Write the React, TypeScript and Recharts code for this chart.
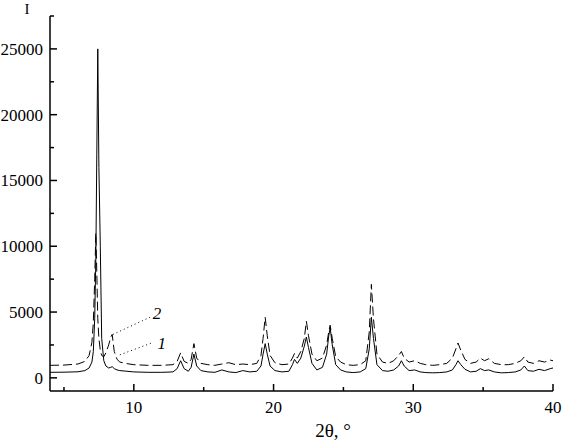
import React from "react";
import {
  LineChart,
  Line,
  XAxis,
  YAxis,
  ReferenceLine,
  ReferenceDot,
} from "recharts";

const FONT = '"Liberation Serif", "Times New Roman", serif';

// 2θ positions shared by both patterns
const twoTheta = [
  4, 5, 6, 6.5, 6.8, 7.0, 7.1, 7.2, 7.28, 7.35, 7.42, 7.5, 7.6, 7.7, 7.85, 8.0,
  8.2, 8.35, 8.45, 8.6, 8.8, 9.0, 9.5, 10, 11, 12, 12.8, 13.1, 13.35, 13.6, 13.9,
  14.1, 14.3, 14.5, 14.8, 15.3, 15.8, 16.3, 16.8, 17.3, 17.8, 18.3, 18.8, 19.1,
  19.25, 19.4, 19.55, 19.75, 20.1, 20.6, 21.1, 21.35, 21.5, 21.7, 21.95, 22.2,
  22.35, 22.5, 22.75, 23.1, 23.5, 23.8, 23.95, 24.05, 24.2, 24.45, 24.8, 25.2,
  25.7, 26.2, 26.6, 26.85, 27.0, 27.15, 27.4, 27.8, 28.2, 28.6, 28.95, 29.15,
  29.35, 29.7, 30.1, 30.5, 30.9, 31.4, 31.9, 32.4, 32.8, 33.05, 33.2, 33.4, 33.7,
  34.1, 34.5, 34.8, 35.1, 35.4, 35.8, 36.3, 36.8, 37.3, 37.7, 37.95, 38.2, 38.6,
  39.0, 39.4, 39.8, 40,
];

// sample 1 (solid, lower baseline)
const intensity1 = [
  420, 430, 460, 550, 750, 1200, 2000, 4500, 9000, 17000, 25000, 16000, 10000,
  3000, 1300, 900, 750, 800, 850, 700, 600, 550, 500, 450, 420, 420, 450, 700,
  1300, 700, 500, 800, 1800, 900, 550, 450, 420, 600, 450, 400, 550, 450, 500,
  900, 1800, 2600, 1800, 900, 550, 450, 500, 1000, 1400, 1100, 1500, 2400, 3100,
  2300, 1100, 600, 800, 1800, 3200, 3800, 2500, 1000, 600, 450, 400, 450, 700,
  2200, 4600, 3000, 1000, 550, 500, 600, 900, 1300, 900, 550, 600, 450, 400, 380,
  400, 450, 600, 1000, 1300, 1000, 650, 450, 500, 700, 550, 600, 450, 380, 400,
  450, 600, 900, 550, 500, 650, 550, 700, 750,
];

// sample 2 (dashed, upper baseline)
const intensity2 = [
  950, 970, 1050, 1250, 1700, 2700, 4200, 7500, 11000, 8000, 4500, 3000, 2100,
  1700, 1600, 1900, 2500, 3100, 3300, 2000, 1400, 1200, 1080, 1000, 950, 950,
  1000, 1250, 1900, 1250, 1100, 1400, 2600, 1500, 1100, 1000, 950, 1050, 1150,
  1000, 1050, 1000, 1100, 1700, 3000, 4600, 3200, 1700, 1150, 1000, 1050, 1500,
  1850, 1500, 2000, 3000, 4300, 3200, 1800, 1300, 1500, 2500, 3500, 4000, 3000,
  1600, 1200, 1000, 950, 1000, 1300, 3500, 7100, 4500, 1800, 1200, 1100, 1300,
  1700, 2000, 1500, 1200, 1300, 1100, 1000, 950, 1000, 1100, 1500, 2200, 2650,
  2100, 1400, 1100, 1200, 1500, 1300, 1450, 1100, 1000, 1000, 1100, 1300, 1600,
  1200, 1100, 1300, 1200, 1350, 1300,
];

const xTicks = [5, 10, 15, 20, 25, 30, 35, 40];
const yTicks = [0, 2500, 5000, 7500, 10000, 12500, 15000, 17500, 20000, 22500, 25000, 27500];

const data = twoTheta.map((x, i) => ({ x, s1: intensity1[i], s2: intensity2[i] }));

function XTick(props: any) {
  const { x, y, payload } = props;
  const major = payload.value % 10 === 0;
  return (
    <g>
      <line x1={x} x2={x} y1={y} y2={y - (major ? 7 : 4)} stroke="#000" strokeWidth={1.5} />
      {major && (
        <text x={x} y={y + 22} textAnchor="middle" fontFamily={FONT} fontSize={17} fill="#000">
          {payload.value}
        </text>
      )}
    </g>
  );
}

function YTick(props: any) {
  const { x, y, payload } = props;
  const major = payload.value % 5000 === 0;
  return (
    <g>
      <line x1={x} x2={x + (major ? 7 : 4)} y1={y} y2={y} stroke="#000" strokeWidth={1.5} />
      {major && (
        <text x={x - 7} y={y + 6} textAnchor="end" fontFamily={FONT} fontSize={17} fill="#000">
          {payload.value}
        </text>
      )}
    </g>
  );
}

function curveLabel(text: string) {
  return (props: any) => {
    const vb = props.viewBox;
    return (
      <text
        x={vb.x + vb.width / 2}
        y={vb.y + vb.height / 2 + 6}
        textAnchor="middle"
        fontFamily={FONT}
        fontStyle="italic"
        fontSize={17}
        fill="#000"
      >
        {text}
      </text>
    );
  };
}

export default function App() {
  return (
    <div style={{ position: "absolute", left: 0, top: 0, width: 562, height: 441, background: "#fff" }}>
      <LineChart
        width={562}
        height={441}
        data={data}
        margin={{ top: 16, right: 9, bottom: 0, left: 0 }}
      >
        <XAxis
          dataKey="x"
          type="number"
          domain={[4, 40]}
          ticks={xTicks}
          interval={0}
          height={50}
          tickSize={0}
          tickMargin={0}
          tickLine={false}
          axisLine={{ stroke: "#000", strokeWidth: 1.5 }}
          tick={<XTick />}
          label={() => (
            <text x={333} y={437} textAnchor="middle" fontFamily={FONT} fontSize={19} fill="#000">
              2θ, °
            </text>
          )}
        />
        <YAxis
          type="number"
          domain={[-1000, 27500]}
          ticks={yTicks}
          interval={0}
          width={50}
          tickSize={0}
          tickMargin={0}
          tickLine={false}
          axisLine={{ stroke: "#000", strokeWidth: 1.5 }}
          tick={<YTick />}
          label={() => (
            <text x={27} y={14} textAnchor="middle" fontFamily={FONT} fontSize={15} fill="#000">
              I
            </text>
          )}
        />
        <Line
          dataKey="s2"
          type="linear"
          stroke="#000"
          strokeWidth={1}
          strokeDasharray="9 4"
          dot={false}
          isAnimationActive={false}
        />
        <Line
          dataKey="s1"
          type="linear"
          stroke="#000"
          strokeWidth={1}
          dot={false}
          isAnimationActive={false}
        />
        <ReferenceLine
          segment={[{ x: 8.5, y: 3300 }, { x: 11.15, y: 4600 }]}
          stroke="#000"
          strokeDasharray="1 3"
        />
        <ReferenceLine
          segment={[{ x: 9.0, y: 1750 }, { x: 11.4, y: 2700 }]}
          stroke="#000"
          strokeDasharray="1 3"
        />
        <ReferenceDot x={11.65} y={4900} r={1} fill="none" stroke="none" label={curveLabel("2")} />
        <ReferenceDot x={12.0} y={2650} r={1} fill="none" stroke="none" label={curveLabel("1")} />
      </LineChart>
    </div>
  );
}
